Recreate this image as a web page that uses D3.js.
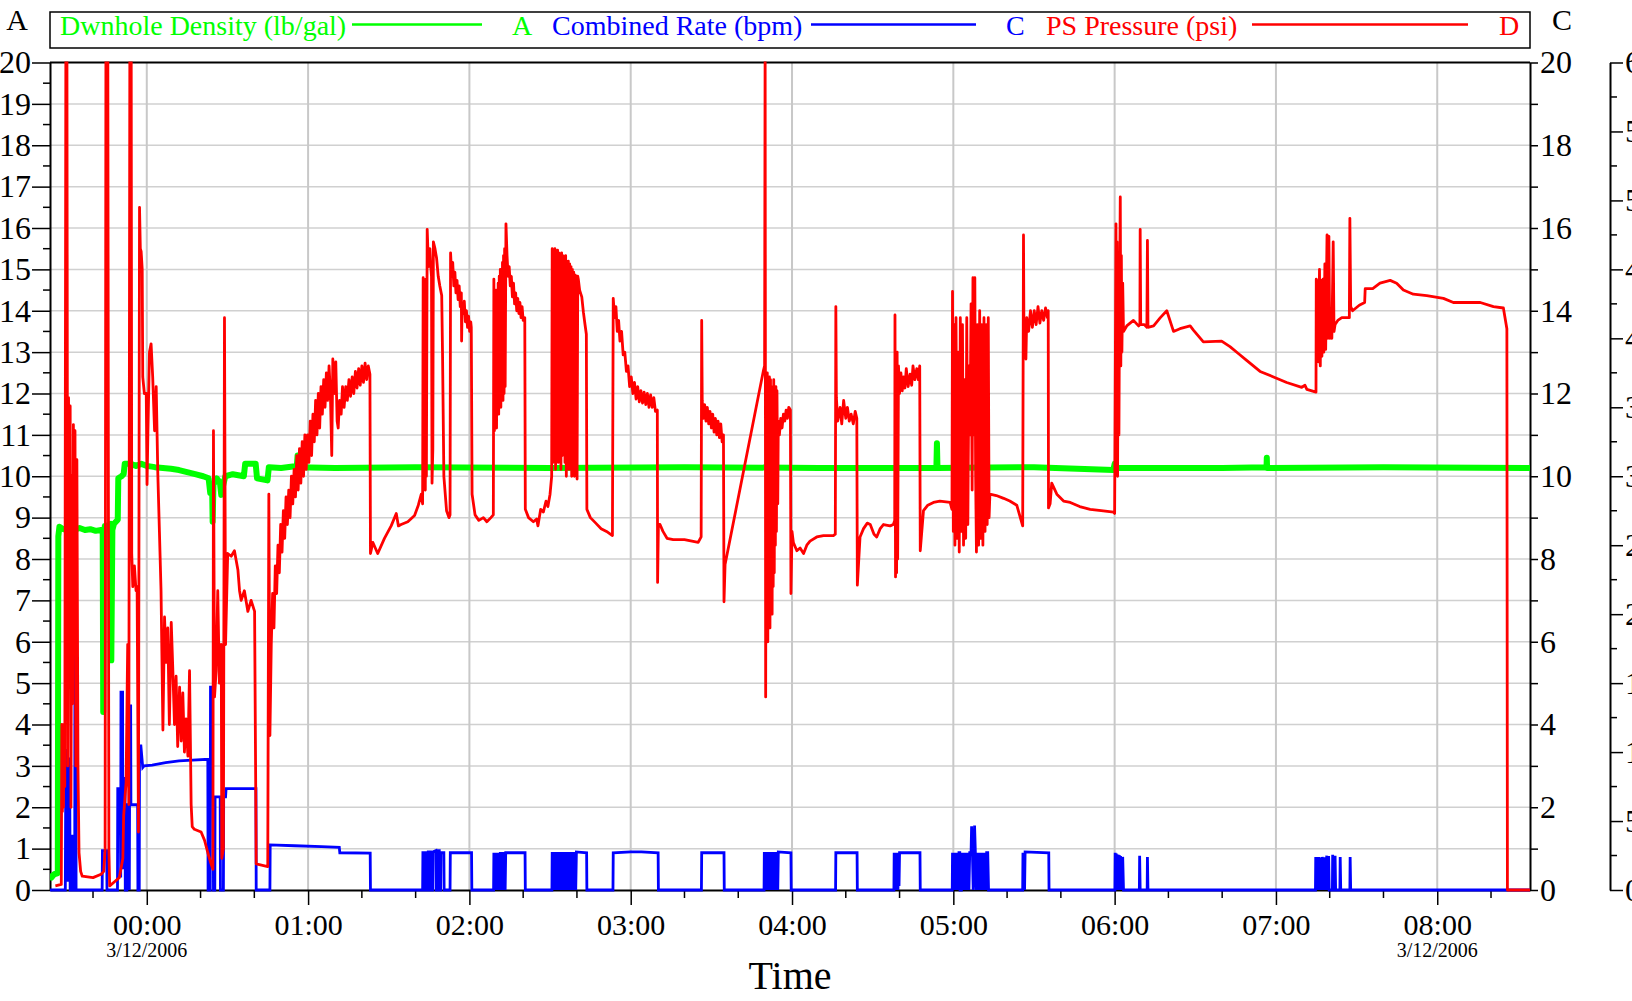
<!DOCTYPE html>
<html><head><meta charset="utf-8">
<script src="https://cdn.jsdelivr.net/npm/d3@7"></script>
<style>
html,body{margin:0;padding:0;background:#fff;overflow:hidden;}
svg{display:block;font-family:"Liberation Serif","Times New Roman",serif;}
</style></head><body>
<svg id="chart" width="1632" height="1001"></svg>
<script>
// ---------- DATA (time = minutes after 3/12/2006 00:00) ----------
const seriesNames = ["Dwnhole Density (lb/gal)", "Combined Rate (bpm)", "PS Pressure (psi)"];
const seriesAxis = ["A", "C", "D"];
const seriesColors = ["#00ff00", "#0000ff", "#ff0000"];
const timeDomain = [-36, 514.5];
const hourTicks = [0, 60, 120, 180, 240, 300, 360, 420, 480];
const minorTimeTicks = [-20, 20, 40, 80, 100, 140, 160, 200, 220, 260, 280, 320, 340, 380, 400, 440, 460, 500];
const dateLabelTicks = [0, 480];
const dateLabel = "3/12/2006";
const xTitle = "Time";
const densityTicks = d3.range(0, 21, 1);
const rateTicks = d3.range(0, 21, 1);
const pressureTicks = d3.range(0, 6001, 500);

const densityData = [
[-36.5,0.35],[-35.5,0.3],[-34.5,0.38],[-33.3,0.4],[-33.1,0.45],[-32.9,8.55],[-32.5,8.78],[-31,8.72],[-29,8.75],
[-27,8.7],[-25,8.75],[-23,8.7],[-21,8.72],[-19,8.68],[-17,8.7],[-16.4,8.65],[-16.2,4.3],[-15.9,8.6],[-15.6,8.8],
[-14,8.82],[-13.4,8.85],[-13.2,5.55],[-12.8,8.7],[-12.2,8.85],[-10.8,8.95],[-10.6,9.95],[-9.4,10.0],[-8.6,10.05],
[-8.2,10.3],[-6,10.3],[-4,10.25],[-2,10.3],[0,10.25],[3,10.22],[6,10.2],[9,10.18],[12,10.15],[15,10.1],[18,10.05],
[21,10.0],[23,9.95],[23.6,9.6],[24.3,9.75],[24.5,8.9],[24.8,9.8],[26,9.95],[27.2,9.85],[27.7,9.55],[28.3,9.75],
[29.2,10.0],[32,10.05],[36.1,10.0],[36.6,10.3],[40.5,10.3],[41.0,9.95],[44.9,9.9],[45.4,10.22],[50,10.2],
[55.8,10.25],[56.1,10.5],[56.4,10.22],[70,10.2],[100,10.22],[150,10.2],[200,10.22],[250,10.2],[293.7,10.2],
[293.9,10.8],[294.1,10.2],[330,10.22],[359.5,10.15],[360.0,10.3],[361,10.2],[400,10.2],[416.5,10.22],
[416.6,10.45],[416.7,10.2],[460,10.22],[514.5,10.2]
];

const rateData = [
[-36,0],[-30.3,0],[-30.1,3.4],[-29.6,3.3],[-29.4,0.2],[-29.2,3.2],[-28.7,3.1],[-28.5,0],[-27.8,0],[-27.7,1.3],
[-27.2,1.3],[-27.1,0],[-26.8,0],[-26.7,9.9],[-26.4,9.9],[-26.3,0],
[-16.6,0],[-16.5,0.95],[-14.9,0.95],[-14.8,0],
[-10.9,0],[-10.8,2.45],[-9.9,2.45],[-9.7,0.3],[-9.6,4.78],[-9.0,4.78],[-8.9,0.5],[-8.6,2.7],[-8.1,2.7],[-8.0,0],
[-7.4,0],[-7.3,2.06],[-6.6,2.06],[-6.5,0],[-6.3,4.45],[-6.0,4.45],[-5.9,2.06],[-3.4,2.06],[-3.3,0],[-2.8,0],
[-2.7,3.48],[-2.2,3.48],[-1.5,2.96],[-1.0,3.0],[2,3.02],[7,3.08],[12,3.12],[17,3.14],[22.7,3.16],[22.8,0],
[23.6,0],[23.7,4.9],[24.1,4.9],[24.3,2.25],[24.7,2.25],[24.8,0],[25.3,0],[25.4,2.25],[27.3,2.25],[27.4,0],
[28.5,0],[28.6,2.25],[29.3,2.25],[29.5,2.45],[40.6,2.45],[40.7,0],
[45.8,0],[45.9,1.09],[55,1.07],[65,1.05],[71.6,1.03],[71.8,0.9],[83.1,0.89],[83.2,0],
[102.6,0],[102.7,0.9],[103.1,0.9],[103.2,0],[103.7,0],[103.8,0.9],[104.2,0.9],[104.3,0],[104.6,0],[104.7,0.92],
[105.5,0.92],[105.6,0],[106.3,0],[106.4,0.92],[107.5,0.95],[107.6,0],[108.0,0],[108.1,0.95],[108.8,0.95],
[108.9,0],[109.3,0],[109.4,0.9],[110.5,0.9],[110.6,0],
[112.8,0],[112.9,0.9],[120.8,0.9],[120.9,0],
[129.0,0],[129.1,0.9],[129.3,0],[129.5,0.9],[129.7,0],[129.9,0.9],[130.1,0],[130.3,0.9],[130.5,0],[130.7,0.9],
[130.9,0],[131.1,0.9],[131.3,0],[131.5,0.92],[131.7,0],[131.9,0.92],[132.1,0],[132.3,0.92],[132.5,0],
[132.7,0.92],[132.9,0],[133.1,0.92],[133.3,0],[133.5,0.9],[140.7,0.9],[140.8,0],
[150.7,0],[150.8,0.92],[151.05,0],[151.3,0.92],[151.55,0],[151.8,0.92],[152.05,0],[152.3,0.92],[152.55,0],
[152.8,0.92],[153.05,0],[153.3,0.92],[153.55,0],[153.8,0.92],[154.05,0],[154.3,0.92],[154.55,0],[154.8,0.92],
[155.05,0],[155.3,0.92],[155.55,0],[155.8,0.92],[156.05,0],[156.3,0.92],[156.55,0],[156.8,0.92],[157.05,0],
[157.3,0.92],[157.55,0],[157.8,0.92],[158.05,0],[158.3,0.92],[158.55,0],[158.8,0.92],[159.05,0],[159.3,0.92],
[159.55,0],[159.8,0.92],[163.6,0.9],[163.7,0],
[173.4,0],[173.5,0.9],[180,0.92],[184,0.92],[190.2,0.9],[190.3,0],
[206.3,0],[206.4,0.9],[214.7,0.9],[214.8,0],
[229.6,0],[229.7,0.92],[229.9,0],[230.1,0.92],[230.3,0],[230.5,0.92],[230.7,0],[230.9,0.92],[231.1,0],
[231.3,0.92],[231.5,0],[231.7,0.92],[231.9,0],[232.1,0.92],[232.3,0],[232.5,0.92],[232.7,0],[232.9,0.92],
[233.1,0],[233.3,0.92],[233.5,0],[233.7,0.92],[233.9,0],[234.1,0.92],[234.3,0],[234.5,0.92],[234.7,0],
[234.9,0.92],[239.6,0.9],[239.7,0],
[256.2,0],[256.3,0.9],[264.2,0.9],[264.3,0],
[277.9,0],[278.0,0.9],[278.2,0],[278.4,0.9],[278.6,0],[278.8,0.9],[279.0,0],[279.2,0.9],[279.4,0],[279.6,0.9],
[279.8,0.1],[280.0,0.9],[287.6,0.9],[287.7,0],
[299.6,0],[299.7,0.9],[300.0,0],[300.3,0.9],[300.6,0],[300.9,0.9],[301.2,0],[301.5,0.9],[301.8,0],[302.1,0.9],
[302.4,0.9],[302.5,0],[303.0,0],[303.1,0.9],[303.4,0],[303.7,0.9],[304.0,0],[304.3,0.9],[304.6,0],[304.9,0.9],
[305.2,0],[305.5,0.9],[305.8,0],[306.1,0.9],[306.6,0.9],[306.8,1.54],[307.1,0.9],[307.4,0],[307.7,0.9],
[307.9,1.56],[308.2,0.9],[308.5,0],[308.8,0.9],[309.1,0],[309.4,0.9],[309.7,0],[310.0,0.9],[310.3,0],
[310.6,0.9],[310.9,0],[311.2,0.9],[311.5,0],[311.8,0.9],[312.1,0],[312.4,0.9],[312.8,0.9],[313.1,0],
[325.8,0],[325.9,0.9],[326.1,0],[326.3,0.9],[326.5,0],[326.7,0.92],[335.5,0.9],[335.6,0],
[360.1,0],[360.2,0.9],[360.4,0],[360.6,0.88],[360.8,0],[361.0,0.86],[361.2,0],[361.4,0.85],[361.6,0],
[361.8,0.84],[362.0,0],[362.2,0.82],[362.4,0],[362.6,0.8],[362.8,0],[363.0,0.8],[363.3,0],
[369.2,0],[369.3,0.83],[369.5,0],[372.1,0],[372.2,0.8],[372.4,0],
[434.7,0],[434.8,0.8],[435.0,0],[435.2,0.8],[435.4,0],[435.6,0.78],[435.8,0],[436.0,0.8],[436.2,0],
[436.4,0.78],[436.6,0],[436.8,0.78],[437.0,0],[437.2,0.8],[437.5,0],[437.8,0.79],[438.0,0],[438.3,0.79],
[438.5,0],[438.9,0.83],[439.1,0],[439.6,0.82],[439.8,0],[441.0,0],[441.1,0.85],[441.3,0],[441.9,0],
[442.0,0.83],[442.2,0],[443.8,0],[443.9,0.8],[444.1,0],[447.5,0],[447.6,0.8],[447.8,0],[514.5,0]
];

const pressureData = [
[-34.0,30],[-31.8,40],[-31.6,1200],[-31.4,570],[-31.2,1140],[-31.0,600],[-30.8,1200],[-30.5,750],
[-30.1,6200],[-29.7,6200],[-29.4,900],[-29.1,3570],[-28.8,1500],[-28.5,3510],[-28.2,600],[-27.9,3000],
[-27.6,1350],[-27.3,3375],[-27.0,1800],[-26.7,3330],[-26.4,900],[-26.0,3120],[-25.6,900],[-25.2,270],
[-24.6,135],[-24.0,100],[-20.0,90],[-17.0,114],[-16.0,135],[-15.5,300],[-15.2,6200],[-14.5,6200],
[-14.1,300],[-13.8,30],[-12.0,60],[-10.2,90],[-8.9,230],[-8.6,540],[-7.7,780],[-7.1,1780],[-6.7,620],
[-6.3,6200],[-5.8,6200],[-5.6,2440],[-5.2,2200],[-4.6,2350],[-4.0,2170],[-3.6,2200],[-3.1,420],
[-2.7,4950],[-2.4,4650],[-2.1,4630],[-1.7,4500],[-1.5,3720],[-0.9,3600],[-0.2,3600],[0.1,2940],
[0.4,3300],[1.0,3900],[1.6,3960],[2.2,3720],[2.9,3330],[3.5,3650],[4.1,3020],[4.7,2600],[5.3,2170],
[6.0,1160],[6.6,1980],[7.2,1650],[7.8,1900],[8.4,1200],[9.1,1940],[9.7,1590],[10.3,1200],[10.9,1550],
[11.5,1040],[12.2,1470],[12.8,1080],[13.4,1430],[14.0,1000],[14.6,1240],[15.3,970],[15.9,1590],
[16.5,620],[16.9,460],[17.7,440],[20.2,420],[21.5,360],[22.7,270],[23.9,190],[24.6,150],[24.8,3330],
[25.2,1400],[25.8,1590],[26.4,2170],[27.0,1500],[27.7,1780],[27.9,230],[28.5,300],[28.9,4150],
[29.3,1780],[30.1,2440],[31.4,2420],[32.6,2460],[33.9,2320],[34.5,2170],[35.1,2100],[36.3,2170],
[37.6,2020],[38.8,2100],[40.1,2020],[40.7,190],[45.0,170],[45.4,2870],[45.8,1120],[46.3,1780],
[46.8,2150],[47.3,1900],[47.8,2350],[48.3,2150],[48.8,2500],[49.3,2300],[49.8,2650],[50.3,2450],
[50.8,2750],[51.3,2550],[51.8,2850],[52.3,2650],[52.8,2900],[53.3,2700],[53.8,3000],[54.3,2800],
[54.8,3050],[55.3,2850],[55.8,3150],[56.3,2900],[56.8,3200],[57.3,2950],[57.8,3250],[58.3,3000],
[58.8,3300],[59.3,3050],[59.8,3300],[60.3,3100],[60.8,3400],[61.3,3150],[61.8,3450],[62.3,3250],
[62.8,3550],[63.3,3300],[63.8,3600],[64.3,3350],[64.8,3650],[65.3,3450],[65.8,3700],[66.3,3500],
[66.8,3750],[67.3,3550],[67.8,3800],[68.3,3600],[68.8,3150],[69.2,3850],[69.8,3600],[70.3,3830],
[70.8,3400],[71.2,3350],[71.7,3550],[72.3,3450],[72.8,3650],[73.4,3500],[74.0,3650],[74.6,3550],
[75.2,3700],[75.8,3580],[76.4,3720],[77.0,3600],[77.6,3760],[78.2,3640],[78.8,3780],[79.4,3660],
[80.0,3800],[80.6,3680],[81.2,3820],[81.8,3700],[82.4,3800],[83.0,3740],[83.2,2440],
[84.1,2520],[85.9,2440],[88.4,2550],[90.9,2640],[92.8,2730],[93.6,2640],[94.6,2650],[97.1,2670],
[99.6,2715],[101.0,2790],[102.1,2870],[102.6,2800],[102.8,4440],[103.0,2940],[103.6,2900],[103.8,4430],
[104.0,3000],[104.3,4790],[104.5,4680],[104.7,4520],[105.3,4650],[105.7,4500],[105.9,4450],[106.1,2950],
[106.4,3200],[106.6,4700],[107.2,4650],[107.8,4580],[108.4,4450],[109.0,4380],[109.7,4310],[110.0,3900],
[110.5,3000],[111.5,2750],[112.4,2700],[112.8,2720],
[113.0,4620],[113.4,4450],[113.8,4550],[114.2,4380],[114.6,4480],[115.0,4330],[115.4,4420],[115.8,4280],
[116.2,4380],[116.6,4230],[117.0,4330],[117.1,3980],[117.3,4250],[117.7,4180],[118.1,4270],[118.5,4120],
[118.9,4200],[119.3,4080],[119.7,4160],[120.1,4050],[120.5,4120],[120.7,4080],
[121.0,2870],[122.1,2720],[123.5,2680],[125.2,2700],[126.5,2670],[128.0,2700],[128.9,2720],
[129.1,4430],[129.3,3330],[129.5,4300],[129.7,3400],[129.9,4350],[130.1,3350],[130.3,4300],[130.5,3450],
[130.7,4400],[130.9,3450],[131.1,4450],[131.3,3500],[131.5,4500],[131.7,3500],[131.9,4500],[132.1,3550],
[132.3,4550],[132.5,3550],[132.7,4600],[132.9,3600],[133.1,4650],[133.3,3650],[133.6,4830],
[134.0,4600],[134.4,4450],[134.8,4520],[135.2,4380],[135.6,4450],[136.0,4300],[136.4,4400],[136.8,4250],
[137.2,4330],[137.6,4200],[138.0,4290],[138.4,4180],[138.8,4260],[139.2,4150],[139.6,4230],[140.0,4130],
[140.6,4150],[140.8,2760],[142.0,2700],[143.8,2670],[145.0,2690],[145.5,2640],[146.5,2760],
[147.5,2740],[148.5,2820],[149.2,2780],[150.0,2870],[150.6,3000],
[150.8,4650],[151.05,3100],[151.3,4620],[151.55,3200],[151.8,4650],[152.05,3050],[152.3,4600],[152.55,3250],
[152.8,4640],[153.05,3100],[153.3,4620],[153.55,3200],[153.8,4600],[154.05,3050],[154.3,4620],[154.55,3150],
[154.8,4600],[155.05,3250],[155.3,4580],[155.55,3100],[155.8,4600],[156.05,3000],[156.3,4560],[156.55,3150],
[156.8,4560],[157.05,3050],[157.3,4540],[157.55,3250],[157.8,4520],[158.05,3000],[158.3,4500],[158.55,3100],
[158.8,4480],[159.05,3000],[159.3,4460],[159.55,3150],[159.8,4450],[160.05,2980],[160.3,4450],
[160.5,4430],[161.0,4350],[161.8,4300],[162.4,4190],[163.0,4100],[163.5,4030],[163.7,2760],[165.0,2700],
[167.0,2660],[169.0,2620],[171.0,2600],[173.2,2570],
[173.5,4290],[174.0,4150],[174.5,4230],[175.0,4050],[175.5,4130],[176.0,3980],[176.6,4050],[177.2,3880],
[177.8,3900],[178.4,3760],[179.0,3800],[179.6,3650],[180.2,3720],[180.8,3600],[181.4,3680],[182.0,3560],
[182.6,3650],[183.2,3540],[183.8,3620],[184.4,3530],[185.0,3610],[185.6,3520],[186.2,3600],[186.8,3500],
[187.4,3590],[188.0,3500],[188.6,3570],[189.2,3470],[189.9,3480],
[190.0,2230],[190.3,2650],[190.9,2650],[192.0,2600],[193.5,2550],[195.8,2540],[200.0,2540],[205.1,2520],
[206.2,2560],[206.4,4130],[206.6,3550],[207.0,3420],[207.5,3520],[208.0,3400],[208.5,3500],[209.0,3380],
[209.5,3470],[210.0,3350],[210.5,3450],[211.0,3320],[211.5,3420],[212.0,3300],[212.5,3400],[213.0,3280],
[213.5,3380],[214.0,3250],[214.5,3300],[214.7,2090],[215.1,2360],[229.3,3760],[229.8,3800],[230.0,6200],[230.1,3700],
[230.2,1400],[230.4,3700],[230.6,1900],[230.8,3750],[231.0,1800],[231.2,3700],[231.4,2000],[231.6,3720],
[231.8,1900],[232.0,3700],[232.2,2100],[232.4,3650],[232.6,2000],[232.8,3650],[233.0,2200],[233.2,3700],
[233.4,2300],[233.6,3600],[233.8,2500],[234.0,3650],[234.2,2600],[234.4,3620],[234.7,2800],[234.9,3400],
[235.3,3300],[235.8,3420],[236.3,3350],[236.8,3450],[237.3,3400],[237.8,3480],[238.3,3420],[238.8,3500],
[239.4,3480],[239.6,2150],[240.0,2600],[240.5,2520],[241.8,2460],[243.0,2480],[244.3,2440],[245.5,2500],
[246.7,2530],[249.2,2560],[251.7,2570],[255.4,2570],[256.1,2580],[256.3,4230],[256.5,3570],[257.0,3400],
[257.9,3500],[258.5,3380],[259.2,3550],[260.0,3420],[260.6,3500],[261.3,3400],[262.0,3450],[262.8,3380],
[263.5,3470],[264.1,3420],[264.3,2210],[265.3,2560],[266.6,2620],[268.0,2660],[269.1,2650],[270.5,2580],
[271.5,2560],[272.8,2620],[274.0,2650],[276.5,2640],[277.7,2650],[278.2,2680],[278.3,4170],[278.5,2270],
[278.7,3700],[278.9,2300],[279.1,3900],[279.3,2400],[279.6,3800],[280.0,3600],[280.5,3750],[281.0,3620],
[281.5,3720],[282.0,3640],[282.5,3780],[283.2,3650],[283.9,3740],[284.5,3660],[285.0,3800],[285.7,3700],
[286.4,3780],[287.0,3700],[287.5,3800],[287.7,2460],[288.9,2750],[290.5,2790],
[292.6,2810],[295.0,2820],[298.8,2810],[299.5,2760],
[299.7,4340],[300.0,2600],[300.3,4100],[300.6,2500],[301.0,4150],[301.4,2550],[301.8,3900],[302.2,2450],
[302.6,4150],[303.0,2600],[303.4,4100],[303.8,2500],[304.2,3700],[304.6,2550],[305.0,4150],[305.4,2650],
[305.8,3800],[306.2,3300],[306.6,4250],[307.0,2900],[307.3,4440],[307.6,3300],[308.0,4440],[308.3,3000],
[308.6,2450],[309.0,4100],[309.4,2500],[309.8,4200],[310.2,2550],[310.6,4100],[311.0,2500],[311.4,4150],
[311.8,2600],[312.2,4100],[312.6,2650],[313.0,4150],[313.3,2700],
[313.6,2870],[316.0,2860],[318.7,2840],[321.0,2820],[323.6,2790],[325.8,2640],[326.1,4750],[326.3,3900],
[326.5,4000],[327.0,3850],[327.3,4150],[328.0,4050],[328.7,4200],[329.4,4080],[330.1,4200],[330.8,4100],
[331.5,4230],[332.2,4110],[332.9,4200],[333.6,4130],[334.3,4220],[335.0,4150],[335.3,4200],[335.4,2770],
[336.0,2800],[336.6,2950],[338.5,2870],[341.0,2820],[343.5,2810],[347.0,2780],[350.9,2760],[355.0,2750],
[359.6,2740],[360.0,2730],[360.5,4830],[360.7,3200],[360.9,4700],[361.1,3000],[361.4,4600],[361.6,3300],
[361.8,4200],[362.1,5025],[362.3,3800],[362.5,4600],[362.7,3900],[363.0,4400],[363.3,4050],[364.5,4090],
[367.0,4130],[368.9,4090],[369.4,4100],[369.5,4790],[369.7,4100],[371.0,4100],[372.0,4080],[372.2,4710],
[372.4,4080],[374.5,4090],[377.0,4150],[379.4,4200],[381.9,4050],[384.3,4070],[388.1,4090],[389.3,4060],
[393.0,3975],[399.8,3980],[402.9,3940],[406.0,3890],[409.1,3840],[414.1,3760],[419.1,3720],[424.0,3680],
[429.6,3645],[430.8,3660],[431.5,3630],[434.9,3610],
[435.0,4430],[435.2,3850],[435.5,4420],[435.8,3830],[436.2,4500],[436.5,3800],[436.8,4420],[437.1,3870],
[437.5,4430],[437.8,3900],[438.2,4540],[438.5,3920],[439.0,4750],[439.3,4000],[439.7,4740],[440.0,4000],
[440.5,4150],[440.8,4000],[441.3,4700],[441.6,4050],[442.0,4100],[443.0,4130],[444.5,4150],[447.3,4150],
[447.5,4870],[447.8,4230],[448.5,4200],[451.0,4240],[453.0,4260],[453.2,4360],[456.0,4360],[458.7,4400],
[462.5,4420],[464.9,4400],[467.4,4350],[471.1,4320],[476.1,4310],[482.3,4290],[486.0,4260],[496.0,4260],
[500.9,4230],[504.6,4220],[505.9,4070],[506.1,0],[514.5,0]
];

// ---------- LAYOUT ----------
const svg = d3.select("#chart");
const L = 50, R = 1530, T = 62.5, B = 890, DX = 1610;
const FONT = '"Liberation Serif","Times New Roman",serif';
const base = Date.UTC(2006, 2, 12, 0, 0, 0);
const toDate = m => new Date(base + m * 60000);

const x = d3.scaleUtc().domain(timeDomain.map(toDate)).range([L, R]);
const yA = d3.scaleLinear().domain([0, 20]).range([B, T]);
const yC = d3.scaleLinear().domain([0, 20]).range([B, T]);
const yD = d3.scaleLinear().domain([0, 6000]).range([B, T]);

// gridlines
svg.append("g").selectAll("line").data(densityTicks.filter(d => d > 0 && d < 20)).join("line")
  .attr("x1", L).attr("x2", R).attr("y1", d => yA(d)).attr("y2", d => yA(d))
  .attr("stroke", "#d0d0d0").attr("stroke-width", 1.5);
svg.append("g").selectAll("line").data(hourTicks).join("line")
  .attr("x1", d => x(toDate(d))).attr("x2", d => x(toDate(d))).attr("y1", T).attr("y2", B)
  .attr("stroke", "#c8c8c8").attr("stroke-width", 2);

function styleAxis(g, fs) {
  g.attr("font-family", FONT).attr("font-size", fs);
  g.select(".domain").attr("stroke", "#000").attr("stroke-width", 2);
  g.selectAll(".tick line").attr("stroke", "#000").attr("stroke-width", 1.5);
  g.selectAll(".tick text").attr("fill", "#000");
}

// top frame line
svg.append("line").attr("x1", L).attr("x2", R).attr("y1", T).attr("y2", T)
  .attr("stroke", "#000").attr("stroke-width", 2);

// left axis (A)
const gA = svg.append("g").attr("transform", `translate(${L},0)`)
  .call(d3.axisLeft(yA).tickValues(densityTicks).tickSize(18).tickPadding(1).tickSizeOuter(0));
styleAxis(gA, 32);
svg.append("g").selectAll("line").data(d3.range(0.5, 20, 1)).join("line")
  .attr("x1", L - 7).attr("x2", L).attr("y1", d => yA(d)).attr("y2", d => yA(d))
  .attr("stroke", "#000").attr("stroke-width", 1.5);

// right axis (C)
const gC = svg.append("g").attr("transform", `translate(${R},0)`)
  .call(d3.axisRight(yC).tickValues(rateTicks).tickSize(8).tickPadding(2).tickSizeOuter(0)
    .tickFormat(d => d % 2 === 0 ? d : ""));
styleAxis(gC, 32);

// third axis (D) — its labels run off the right edge, as in the original
const gD = svg.append("g").attr("transform", `translate(${DX},0)`)
  .call(d3.axisRight(yD).tickValues(pressureTicks).tickSize(13).tickPadding(2).tickSizeOuter(0));
styleAxis(gD, 32);
svg.append("g").selectAll("line").data(d3.range(250, 6000, 500)).join("line")
  .attr("x1", DX).attr("x2", DX + 7).attr("y1", d => yD(d)).attr("y2", d => yD(d))
  .attr("stroke", "#000").attr("stroke-width", 1.5);

// bottom axis
const gX = svg.append("g").attr("transform", `translate(0,${B})`)
  .call(d3.axisBottom(x).tickValues(hourTicks.map(toDate)).tickSize(15).tickPadding(9).tickSizeOuter(0)
    .tickFormat(d3.utcFormat("%H:%M")));
styleAxis(gX, 30);
svg.append("g").selectAll("line").data(minorTimeTicks).join("line")
  .attr("x1", d => x(toDate(d))).attr("x2", d => x(toDate(d))).attr("y1", B).attr("y2", B + 8)
  .attr("stroke", "#000").attr("stroke-width", 1.5);
svg.append("g").selectAll("text").data(dateLabelTicks).join("text")
  .attr("x", d => x(toDate(d))).attr("y", 957).attr("text-anchor", "middle")
  .attr("font-family", FONT).attr("font-size", 20).attr("fill", "#000").text(dateLabel);
svg.append("text").attr("x", (L + R) / 2).attr("y", 989).attr("text-anchor", "middle")
  .attr("font-family", FONT).attr("font-size", 40).attr("fill", "#000").text(xTitle);

// axis letters
svg.append("text").attr("x", 17).attr("y", 30).attr("text-anchor", "middle")
  .attr("font-family", FONT).attr("font-size", 30).text(seriesAxis[0]);
svg.append("text").attr("x", 1562).attr("y", 30).attr("text-anchor", "middle")
  .attr("font-family", FONT).attr("font-size", 30).text(seriesAxis[1]);

// ---------- SERIES ----------
svg.append("clipPath").attr("id", "plotclip").append("rect")
  .attr("x", L).attr("y", T - 1).attr("width", R - L).attr("height", B - T + 4);
const plot = svg.append("g").attr("clip-path", "url(#plotclip)");
const mk = (ys) => d3.line().x(d => x(toDate(d[0]))).y(d => ys(d[1]));

plot.append("path").datum(densityData).attr("d", mk(yA)).attr("fill", "none")
  .attr("stroke", seriesColors[0]).attr("stroke-width", 6).attr("stroke-linejoin", "round");
plot.append("path").datum(rateData).attr("d", mk(yC)).attr("fill", "none")
  .attr("stroke", seriesColors[1]).attr("stroke-width", 2.8).attr("stroke-linejoin", "miter");
plot.append("path").datum(pressureData).attr("d", mk(yD)).attr("fill", "none")
  .attr("stroke", seriesColors[2]).attr("stroke-width", 2.8).attr("stroke-linejoin", "round");

// ---------- LEGEND ----------
const lg = svg.append("g").attr("font-family", FONT).attr("font-size", 28);
lg.append("rect").attr("x", L).attr("y", 12).attr("width", R - L).attr("height", 36)
  .attr("fill", "#fff").attr("stroke", "#000").attr("stroke-width", 1.5);
const legendItems = [
  { textX: 60, lineX: [352, 482], letterX: 512 },
  { textX: 552, lineX: [811, 976], letterX: 1006 },
  { textX: 1046, lineX: [1252, 1468], letterX: 1499 }
];
legendItems.forEach((it, i) => {
  lg.append("text").attr("x", it.textX).attr("y", 35).attr("fill", seriesColors[i]).text(seriesNames[i]);
  lg.append("line").attr("x1", it.lineX[0]).attr("x2", it.lineX[1]).attr("y1", 24.5).attr("y2", 24.5)
    .attr("stroke", seriesColors[i]).attr("stroke-width", 2.5);
  lg.append("text").attr("x", it.letterX).attr("y", 35).attr("fill", seriesColors[i]).text(seriesAxis[i]);
});
</script>
</body></html>
